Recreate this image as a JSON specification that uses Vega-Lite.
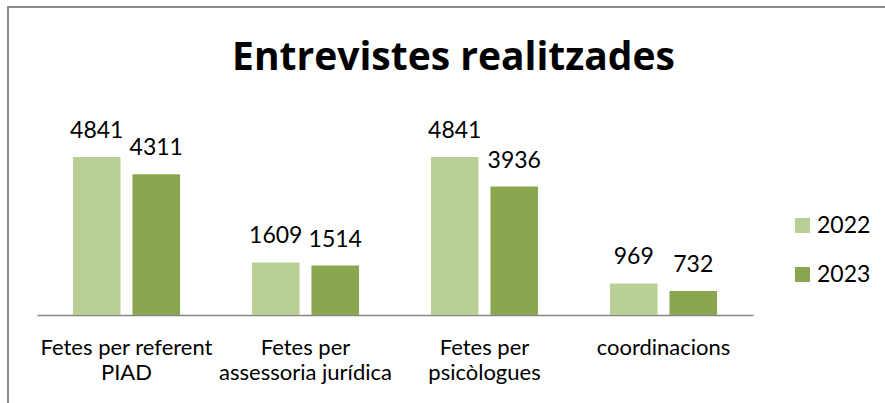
{
  "$schema": "https://vega.github.io/schema/vega-lite/v6.json",
  "width": 879,
  "height": 398,
  "autosize": {"type": "none"},
  "padding": {"left": 8, "top": 7, "right": -2, "bottom": -2},
  "background": "white",
  "config": {
    "view": {"stroke": "#8c8c8c", "strokeWidth": 2},
    "font": "Lato"
  },
  "title": {
    "text": "Entrevistes realitzades",
    "font": "Open Sans",
    "fontSize": 39,
    "fontWeight": "bold",
    "color": "black",
    "anchor": "middle",
    "frame": "group",
    "baseline": "alphabetic",
    "offset": -102,
    "dx": 6
  },
  "data": {
    "values": [
      {"cat": "Fetes per referent PIAD", "year": "2022", "value": 4841},
      {"cat": "Fetes per referent PIAD", "year": "2023", "value": 4311},
      {"cat": "Fetes per assessoria jurídica", "year": "2022", "value": 1609},
      {"cat": "Fetes per assessoria jurídica", "year": "2023", "value": 1514},
      {"cat": "Fetes per psicòlogues", "year": "2022", "value": 4841},
      {"cat": "Fetes per psicòlogues", "year": "2023", "value": 3936},
      {"cat": "coordinacions", "year": "2022", "value": 969},
      {"cat": "coordinacions", "year": "2023", "value": 732}
    ]
  },
  "encoding": {
    "x": {
      "field": "cat",
      "type": "nominal",
      "sort": null,
      "title": null,
      "scale": {"range": [29, 745], "paddingInner": 0.335, "paddingOuter": 0.1675},
      "axis": {
        "orient": "bottom",
        "offset": -90,
        "labelAngle": 0,
        "ticks": false,
        "tickSize": 0,
        "domainColor": "#868686",
        "domainWidth": 1.5,
        "labelFont": "Lato",
        "labelFontSize": 22,
        "labelColor": "black",
        "labelBaseline": "alphabetic",
        "labelPadding": 39,
        "labelLineHeight": 25,
        "labelLimit": 0,
        "labelExpr": "datum.label == 'Fetes per referent PIAD' ? ['Fetes per referent', 'PIAD'] : datum.label == 'Fetes per assessoria jurídica' ? ['Fetes per', 'assessoria jurídica'] : datum.label == 'Fetes per psicòlogues' ? ['Fetes per', 'psicòlogues'] : datum.label"
      }
    },
    "xOffset": {
      "field": "year",
      "type": "nominal",
      "scale": {"paddingInner": 0.2, "paddingOuter": 0.1}
    },
    "y": {
      "field": "value",
      "type": "quantitative",
      "scale": {"domain": [-2757, 9436]},
      "axis": null
    }
  },
  "layer": [
    {
      "mark": {"type": "bar"},
      "encoding": {
        "y2": {"datum": 0},
        "color": {
          "field": "year",
          "type": "nominal",
          "scale": {"domain": ["2022", "2023"], "range": ["#B9CF96", "#8BA650"]},
          "legend": {
            "orient": "none",
            "legendX": 783,
            "legendY": 207,
            "title": null,
            "padding": 0,
            "symbolType": "square",
            "symbolSize": 225,
            "symbolStrokeWidth": 0,
            "symbolOpacity": 1,
            "labelFont": "Lato",
            "labelFontSize": 23,
            "labelColor": "black",
            "labelOffset": 3,
            "rowPadding": 25
          }
        }
      }
    },
    {
      "mark": {"type": "text", "dy": -19, "baseline": "alphabetic", "fontSize": 23, "font": "Lato", "color": "black"},
      "encoding": {
        "text": {"field": "value", "type": "quantitative", "format": "d"}
      }
    }
  ]
}
